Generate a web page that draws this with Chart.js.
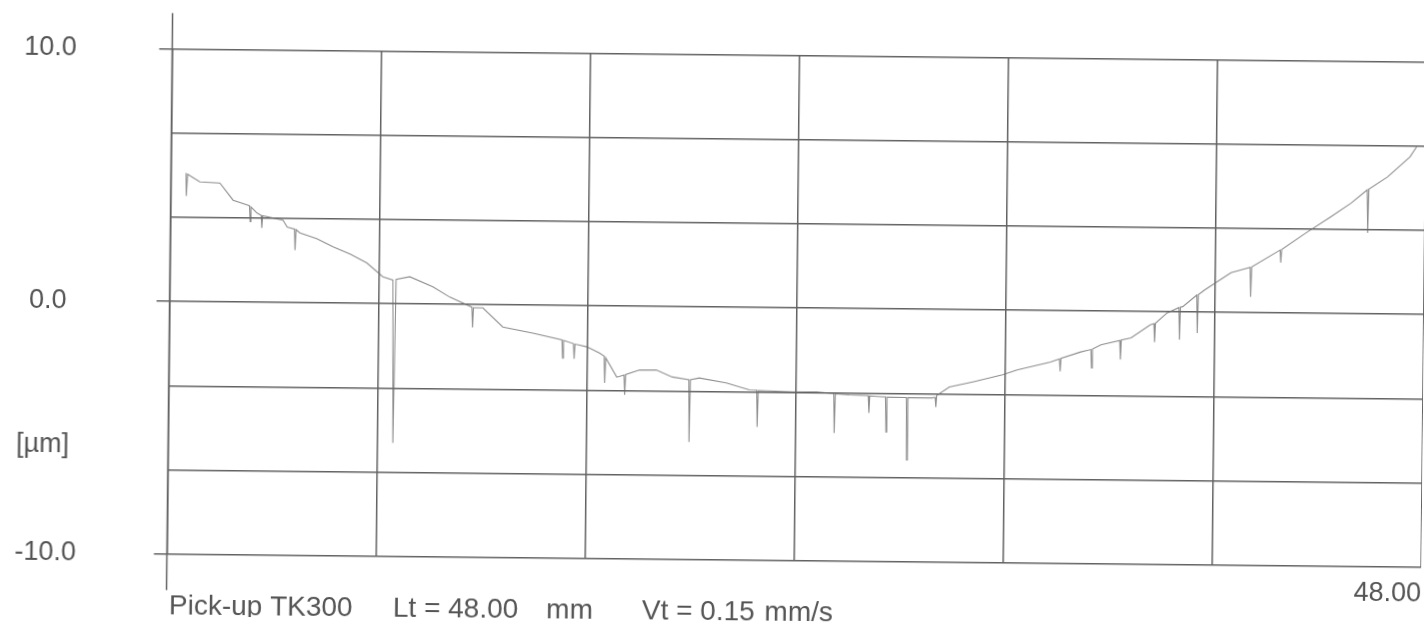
<!DOCTYPE html>
<html>
<head>
<meta charset="utf-8">
<title>Profile TK300</title>
<script src="https://cdn.jsdelivr.net/npm/chart.js@4.4.1/dist/chart.umd.min.js"></script>
<style>
  html, body { margin: 0; padding: 0; background: #fff; overflow: hidden; }
  /* the scan is slightly tilted, so the whole sheet is turned a little */
  #wrap { width: 1424px; height: 622px; transform: rotate(0.6deg); }
  canvas { display: block; }
</style>
</head>
<body>
<div id="wrap"><canvas id="profile" width="1424" height="622"></canvas></div>
<script>
// --- DATA ---
const xTicks = [0, 8, 16, 24, 32, 40, 48];
const xTickLabels = ['', '', '', '', '', '', '48.00'];
const yTicks = [-10, -20 / 3, -10 / 3, 0, 10 / 3, 20 / 3, 10];
const yTickLabels = ['-10.0', '', '', '0.0', '', '', '10.0'];
const unitLabel = '[µm]';
const footerParts = ['Pick-up TK300', 'Lt = 48.00', 'mm', 'Vt = 0.15', 'mm/s'];

// position along the trace [mm]; spikes are base / tip / base triplets
const profileX = [
  0.58, 0.60, 0.64, 1.11, 1.88, 2.39, 2.95, 3.02, 3.05, 3.08,
  3.31, 3.47, 3.50, 3.53, 4.31, 4.47, 4.75, 4.78, 4.81, 4.96,
  5.60, 6.23, 6.90, 7.53, 8.15, 8.54, 8.60, 8.66, 9.18, 10.07,
  10.72, 11.57, 11.60, 11.63, 11.99, 12.76, 13.91, 15.03, 15.06, 15.09,
  15.47, 15.50, 15.53, 15.98, 16.47, 16.65, 16.68, 16.71, 17.14, 17.42,
  17.45, 17.48, 18.00, 18.65, 19.26, 19.90, 19.93, 19.96, 20.30, 21.33,
  22.22, 22.50, 22.53, 22.56, 23.87, 24.79, 25.45, 25.48, 25.51, 26.04,
  26.77, 26.80, 26.83, 27.30, 27.43, 27.46, 27.49, 28.23, 28.26, 28.29,
  29.21, 29.33, 29.36, 29.39, 29.87, 30.76, 31.90, 32.45, 33.73, 34.07,
  34.10, 34.13, 34.88, 35.27, 35.30, 35.33, 35.65, 36.37, 36.40, 36.43,
  36.80, 37.53, 37.67, 37.70, 37.73, 38.17, 38.62, 38.65, 38.68, 38.77,
  39.30, 39.33, 39.36, 39.60, 40.60, 41.33, 41.36, 41.39, 42.47, 42.50,
  42.53, 43.44, 44.40, 45.17, 45.78, 45.81, 45.84, 46.55, 47.40, 47.65
];
// profile height [µm]
const profileY = [
  5.10, 4.19, 5.05, 4.75, 4.71, 4.04, 3.85, 3.82, 3.20, 3.78,
  3.54, 3.45, 2.95, 3.44, 3.27, 3.00, 2.92, 2.09, 2.90, 2.77,
  2.55, 2.24, 1.95, 1.61, 1.07, 0.94, -5.51, 0.97, 1.08, 0.69,
  0.29, -0.10, -0.90, -0.12, -0.12, -0.87, -1.10, -1.36, -2.08, -1.38,
  -1.50, -2.10, -1.52, -1.62, -1.86, -1.98, -3.04, -2.05, -2.81, -2.72,
  -3.51, -2.70, -2.52, -2.51, -2.78, -2.88, -5.35, -2.88, -2.81, -2.99,
  -3.26, -3.27, -4.72, -3.28, -3.32, -3.31, -3.37, -4.93, -3.38, -3.42,
  -3.44, -4.12, -3.45, -3.48, -3.48, -4.87, -3.49, -3.50, -5.97, -3.50,
  -3.50, -3.48, -3.86, -3.40, -3.06, -2.85, -2.56, -2.36, -2.03, -1.90,
  -2.40, -1.88, -1.62, -1.52, -2.25, -1.50, -1.33, -1.15, -1.90, -1.13,
  -1.04, -0.52, -0.47, -1.20, -0.45, -0.04, 0.18, -1.09, 0.20, 0.22,
  0.68, -0.82, 0.70, 0.89, 1.58, 1.80, 0.63, 1.82, 2.50, 2.00,
  2.52, 3.18, 3.84, 4.39, 4.92, 3.22, 4.95, 5.44, 6.24, 6.64
];

// --- STYLE ---
const FONT = "'Liberation Sans', Arial, sans-serif";
const TEXT = '#555';
const GRID = '#626262';

// left border runs past the grid, unit label and footer line
const sheetExtras = {
  id: 'sheetExtras',
  beforeDatasetsDraw(chart) {
    const { ctx, chartArea: a } = chart;
    ctx.save();
    ctx.strokeStyle = GRID;
    ctx.lineWidth = 1.5;
    ctx.beginPath();
    ctx.moveTo(a.left, a.top - 36);
    ctx.lineTo(a.left, a.bottom + 36);
    ctx.stroke();
    ctx.restore();
  },
  afterDraw(chart) {
    const { ctx, chartArea: a } = chart;
    ctx.save();
    ctx.fillStyle = TEXT;
    ctx.font = `27px ${FONT}`;
    ctx.textAlign = 'center';
    ctx.textBaseline = 'middle';
    ctx.fillText(unitLabel, 44, a.bottom - 108);

    ctx.font = `28px ${FONT}`;
    ctx.textBaseline = 'alphabetic';
    const slots = [[172, 'left'], [396, 'left'], [596, 'right'], [645, 'left'], [836, 'right']];
    footerParts.forEach((txt, i) => {
      ctx.textAlign = slots[i][1];
      ctx.fillText(txt, slots[i][0], 620);
    });
    ctx.restore();
  }
};

new Chart(document.getElementById('profile'), {
  type: 'line',
  data: {
    datasets: [{
      data: profileX.map((x, i) => ({ x, y: profileY[i] })),
      borderColor: 'rgba(105, 105, 105, 0.75)',
      borderWidth: 1.1,
      pointRadius: 0,
      tension: 0,
      fill: false
    }]
  },
  options: {
    responsive: false,
    animation: false,
    events: [],
    layout: { padding: { top: 54.7, left: 0, right: 0, bottom: 0 } },
    plugins: { legend: { display: false }, tooltip: { enabled: false } },
    scales: {
      x: {
        type: 'linear',
        min: 0,
        max: 48,
        afterBuildTicks: s => { s.ticks = xTicks.map(v => ({ value: v })); },
        afterFit: s => { s.height = 62.3; s.paddingLeft = 0; s.paddingRight = 0; },
        ticks: {
          callback: (v, i) => xTickLabels[i],
          autoSkip: false,
          maxRotation: 0,
          minRotation: 0,
          align: 'end',
          padding: 2,
          color: TEXT,
          font: { family: FONT, size: 27 }
        },
        grid: { color: GRID, lineWidth: 1.5, drawTicks: true, tickLength: 9, tickColor: 'rgba(0,0,0,0)' },
        border: { display: false }
      },
      y: {
        type: 'linear',
        min: -10,
        max: 10,
        afterBuildTicks: s => { s.ticks = yTicks.map(v => ({ value: v })); },
        // labels sit far left of the grid; keep their padding from shrinking the plot
        afterFit: s => { s.width = 169.5; s.paddingTop = 0; s.paddingBottom = 0; },
        ticks: {
          callback: (v, i) => yTickLabels[i],
          crossAlign: 'center',
          padding: 78,
          color: TEXT,
          font: { family: FONT, size: 27 }
        },
        grid: {
          color: GRID,
          lineWidth: 1.5,
          tickLength: 13,
          tickColor: c => (yTickLabels[c.index] ? GRID : 'rgba(0,0,0,0)')
        },
        border: { display: false }
      }
    }
  },
  plugins: [sheetExtras]
});
</script>
</body>
</html>
